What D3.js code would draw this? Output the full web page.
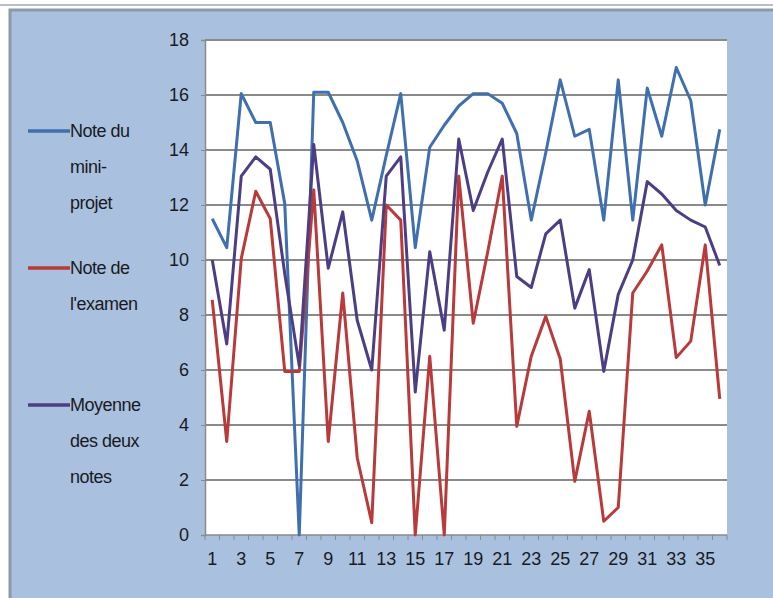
<!DOCTYPE html>
<html>
<head>
  <script src="https://cdnjs.cloudflare.com/ajax/libs/d3/7.8.5/d3.min.js"></script>
  <style>
    body { margin: 0; background: #fff; }
    svg text { font-family: "Liberation Sans Narrow", "Liberation Sans", Arial, sans-serif; fill: #1a1a22; }
  </style>
</head>
<body>
<script>
// data (36 students)
var students = d3.range(1, 37);
var miniProjet = [11.5, 10.45, 16.05, 15.0, 15.0, 12.05, 0, 16.1, 16.1, 15.0, 13.6, 11.45,
                  13.8, 16.05, 10.45, 14.1, 14.9, 15.6, 16.05, 16.05, 15.7, 14.6, 11.45, 13.9,
                  16.55, 14.5, 14.75, 11.45, 16.55, 11.45, 16.25, 14.5, 17.0, 15.8, 12.0, 14.75];
var examen = [8.55, 3.4, 10.05, 12.5, 11.5, 5.95, 5.95, 12.55, 3.4, 8.8, 2.8, 0.45,
              12.0, 11.45, 0, 6.5, 0, 13.05, 7.7, 10.3, 13.05, 3.95, 6.5, 7.95,
              6.4, 1.95, 4.5, 0.5, 1.0, 8.8, 9.6, 10.55, 6.45, 7.05, 10.55, 4.95];
var moyenne = [10.0, 6.95, 13.05, 13.75, 13.3, 9.5, 6.15, 14.2, 9.7, 11.75, 7.8, 6.0,
               13.05, 13.75, 5.2, 10.3, 7.45, 14.4, 11.8, 13.2, 14.4, 9.4, 9.0, 10.95,
               11.45, 8.25, 9.65, 5.95, 8.75, 10.0, 12.85, 12.4, 11.8, 11.45, 11.2, 9.8];
var yTicks = [0, 2, 4, 6, 8, 10, 12, 14, 16, 18];
var xLabels = students.filter(function(d) { return d % 2 === 1; });

var series = [
  { name: ["Note du", "mini-", "projet"], values: miniProjet, color: "#3F6FAE" },
  { name: ["Note de", "l'examen"], values: examen, color: "#B83A3A" },
  { name: ["Moyenne", "des deux", "notes"], values: moyenne, color: "#4D3E84" }
];

var W = 773, H = 598;
var pLeft = 205, pRight = 727, pTop = 40, pBottom = 535;

var svg = d3.select("body").append("svg").attr("width", W).attr("height", H);

// outer frame (screenshot of a spreadsheet chart)
svg.append("rect").attr("x", 0).attr("y", 0).attr("width", W).attr("height", H).attr("fill", "#ffffff");
svg.append("rect").attr("x", 0).attr("y", 4).attr("width", W).attr("height", 2).attr("fill", "#B9BEC6");
svg.append("rect").attr("x", 10).attr("y", 10).attr("width", W - 8).attr("height", H - 8)
   .attr("fill", "#A9C1DF").attr("stroke", "#8C99A8").attr("stroke-width", 3);

var x = d3.scaleBand().domain(students).range([pLeft, pRight]);
var y = d3.scaleLinear().domain([0, 18]).range([pBottom, pTop]);

svg.append("rect").attr("x", pLeft).attr("y", pTop).attr("width", pRight - pLeft).attr("height", pBottom - pTop)
   .attr("fill", "#ffffff");

// gridlines
svg.append("g").selectAll("line").data(yTicks.filter(function(d) { return d > 0; })).enter().append("line")
   .attr("x1", pLeft).attr("x2", pRight)
   .attr("y1", function(d) { return y(d); }).attr("y2", function(d) { return y(d); })
   .attr("stroke", "#8A8A8A").attr("stroke-width", 1.8);

// y axis
var yAxis = svg.append("g").attr("transform", "translate(" + pLeft + ",0)")
   .call(d3.axisLeft(y).tickValues(yTicks).tickSize(4).tickPadding(12));
yAxis.select(".domain").attr("stroke", "#8A8A8A").attr("stroke-width", 1.5);
yAxis.selectAll(".tick line").attr("stroke", "#8A8A8A");
yAxis.selectAll("text").attr("font-size", 18).attr("fill", "#1a1a22")
   .attr("font-family", "'Liberation Sans Narrow', 'Liberation Sans', Arial, sans-serif");

// x axis: small ticks at category boundaries, labels every 2
var xAxis = svg.append("g").attr("transform", "translate(0," + pBottom + ")");
xAxis.append("line").attr("x1", pLeft).attr("x2", pRight).attr("stroke", "#8A8A8A").attr("stroke-width", 1.5);
xAxis.selectAll("line.tk").data(d3.range(0, 37)).enter().append("line").attr("class", "tk")
   .attr("x1", function(d) { return pLeft + d * x.step(); })
   .attr("x2", function(d) { return pLeft + d * x.step(); })
   .attr("y1", 0).attr("y2", 5).attr("stroke", "#8A8A8A");
xAxis.selectAll("text").data(xLabels).enter().append("text")
   .attr("x", function(d) { return x(d) + x.bandwidth() / 2; })
   .attr("y", 30).attr("text-anchor", "middle").attr("font-size", 18)
   .text(function(d) { return d; });

// lines
var line = d3.line()
   .x(function(d, i) { return x(students[i]) + x.bandwidth() / 2; })
   .y(function(d) { return y(d); });

series.forEach(function(s) {
  svg.append("path").datum(s.values).attr("d", line)
     .attr("fill", "none").attr("stroke", s.color).attr("stroke-width", 3)
     .attr("stroke-linejoin", "round");
});

// legend
var legendY = [131, 268, 405];
series.forEach(function(s, i) {
  var g = svg.append("g").attr("transform", "translate(0," + legendY[i] + ")");
  g.append("line").attr("x1", 28).attr("x2", 70).attr("y1", 0).attr("y2", 0)
   .attr("stroke", s.color).attr("stroke-width", 3.5);
  s.name.forEach(function(t, j) {
    g.append("text").attr("x", 70).attr("y", j * 36 + 6).attr("font-size", 18)
     .attr("letter-spacing", -0.5).text(t);
  });
});
</script>
</body>
</html>
